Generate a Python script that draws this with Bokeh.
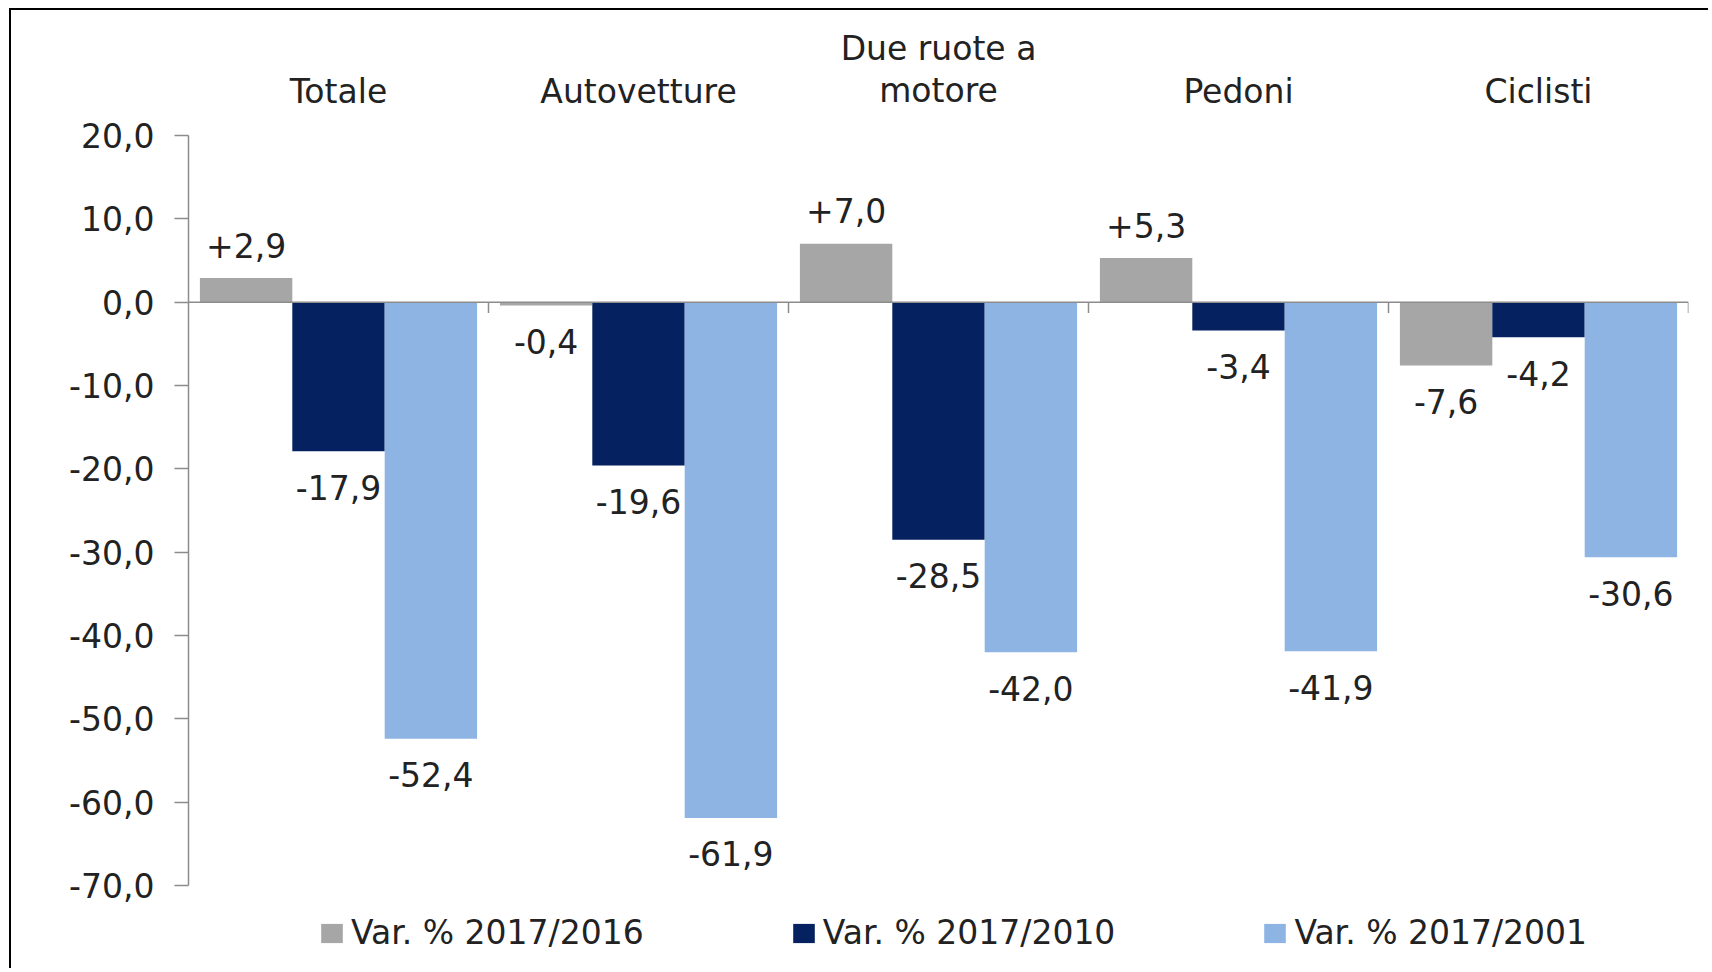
from bokeh.plotting import figure
from bokeh.models import ColumnDataSource, FixedTicker, Legend, LegendItem, Span
from bokeh.core.properties import value
from bokeh.embed import file_html
from bokeh.resources import INLINE

# ---- data ----
categories = ["Totale", "Autovetture", "Due ruote a\nmotore", "Pedoni", "Ciclisti"]
series_names = ["Var. % 2017/2016", "Var. % 2017/2010", "Var. % 2017/2001"]
var_2017_2016 = [2.9, -0.4, 7.0, 5.3, -7.6]
var_2017_2010 = [-17.9, -19.6, -28.5, -3.4, -4.2]
var_2017_2001 = [-52.4, -61.9, -42.0, -41.9, -30.6]
y_ticks = [20, 10, 0, -10, -20, -30, -40, -50, -60, -70]
y_tick_labels = ["20,0", "10,0", "0,0", "-10,0", "-20,0", "-30,0", "-40,0", "-50,0", "-60,0", "-70,0"]

# ---- style ----
colors = ["#A6A6A6", "#05215F", "#8EB4E3"]
FONT = "DejaVu Sans"
FSIZE = "33px"
TXT = "#222222"
AXIS_COL = "#8C8C8C"
bar_w = 0.308
offsets = [-bar_w, 0.0, bar_w]


def fmt(v):
    return f"{v:+.1f}".replace(".", ",")


p = figure(width=1699, height=960, x_range=(0, 5), y_range=(-80.2, 35.0),
           output_backend="svg", toolbar_location=None, x_axis_location=None,
           min_border_left=177, min_border_right=22, min_border_top=0, min_border_bottom=0)
p.styles = {"border-top": "2px solid #000000", "border-left": "2px solid #000000",
            "margin-left": "9px", "margin-top": "8px"}
p.outline_line_color = None
p.xgrid.visible = False
p.ygrid.visible = False
p.background_fill_color = "white"
p.border_fill_color = "white"

ax = p.yaxis[0]
ax.ticker = FixedTicker(ticks=y_ticks)
ax.major_label_overrides = dict(zip(y_ticks, y_tick_labels))
ax.bounds = (min(y_ticks), max(y_ticks))
ax.minor_tick_line_color = None
ax.major_tick_in = 0
ax.major_tick_out = 14
ax.major_tick_line_color = AXIS_COL
ax.major_tick_line_width = 1.5
ax.axis_line_color = AXIS_COL
ax.axis_line_width = 1.5
ax.major_label_text_font = FONT
ax.major_label_text_font_size = FSIZE
ax.major_label_text_color = TXT
ax.major_label_standoff = 20

series = [var_2017_2016, var_2017_2010, var_2017_2001]
renderers = []
for k, vals in enumerate(series):
    xs = [i + 0.5 + offsets[k] for i in range(len(categories))]
    ly = [v + 3.95 if v > 0 else v - 4.3 for v in vals]
    src = ColumnDataSource(dict(x=xs, top=vals, label=[fmt(v) for v in vals], ly=ly))
    r = p.vbar(x="x", top="top", bottom=0, width=bar_w, fill_color=colors[k],
               line_color=None, source=src)
    renderers.append(r)
    p.text(x="x", y="ly", text="label", source=src, text_align="center",
           text_baseline="middle", text_font=value(FONT), text_font_size=FSIZE,
           text_color=TXT)

# zero line and category separator ticks
p.add_layout(Span(location=0, dimension="width", line_color=AXIS_COL, line_width=1.5))
bounds_x = [i + 1 for i in range(len(categories))]
p.segment(x0=bounds_x, x1=bounds_x, y0=[0] * len(bounds_x), y1=[-1.3] * len(bounds_x),
          line_color=AXIS_COL, line_width=1.5)

# category labels on top
p.text(x=[i + 0.5 for i in range(len(categories))], y=[23.0] * len(categories),
       text=categories, text_align="center", text_baseline="bottom",
       text_line_height=1.1, text_font=value(FONT), text_font_size=FSIZE,
       text_color=TXT)

legend = Legend(items=[LegendItem(label=n, renderers=[r]) for n, r in zip(series_names, renderers)],
                orientation="horizontal", location=(130, 18), glyph_width=27, glyph_height=24,
                label_standoff=6, spacing=146, padding=0, margin=0,
                border_line_color=None, background_fill_alpha=0,
                label_text_font=FONT, label_text_font_size=FSIZE, label_text_color=TXT)
p.add_layout(legend)

open("out.html", "w").write(file_html(p, INLINE))
